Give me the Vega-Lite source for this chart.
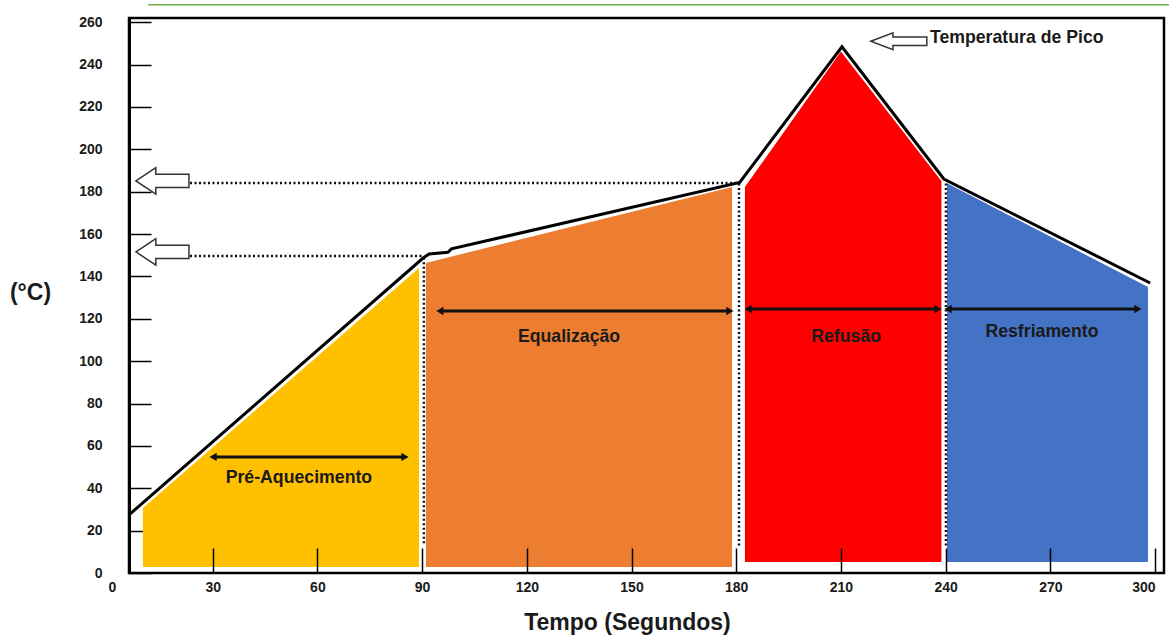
{
  "$schema": "https://vega.github.io/schema/vega-lite/v6.json",
  "width": 1035,
  "height": 555,
  "autosize": "none",
  "padding": {"left": 129, "top": 18, "right": 5, "bottom": 66},
  "background": "white",
  "config": {
    "view": {"stroke": "black", "strokeWidth": 2.5},
    "font": "Liberation Sans"
  },
  "datasets": {
    "profile": [
      {"t": 6.0, "v": 27.4}, {"t": 90.3, "v": 148.7}, {"t": 92.0, "v": 150.6},
      {"t": 97.4, "v": 151.4}, {"t": 98.4, "v": 153.0}, {"t": 181.0, "v": 184.4},
      {"t": 210.3, "v": 248.4}, {"t": 239.5, "v": 186.0}, {"t": 298.6, "v": 136.9}
    ],
    "zones": [
      {"phase": "Pré-Aquecimento", "t": 10.0, "v": 30.7},
      {"phase": "Pré-Aquecimento", "t": 89.1, "v": 144.0},
      {"phase": "Equalização", "t": 91.1, "v": 146.4},
      {"phase": "Equalização", "t": 178.8, "v": 182.2},
      {"phase": "Refusão", "t": 182.5, "v": 182.2},
      {"phase": "Refusão", "t": 210.0, "v": 246.2},
      {"phase": "Refusão", "t": 238.8, "v": 185.0},
      {"phase": "Resfriamento", "t": 240.4, "v": 184.0},
      {"phase": "Resfriamento", "t": 298.0, "v": 135.0}
    ],
    "bounds": [
      {"t": 90.5, "v": 14, "v2": 148.5},
      {"t": 180.8, "v": 13, "v2": 184},
      {"t": 240.1, "v": 13, "v2": 186}
    ],
    "levels": [
      {"t": 23.5, "t2": 180.5, "v": 184.1},
      {"t": 23.5, "t2": 90.3, "v": 149.7}
    ],
    "markers": [
      {"t": 15.6, "v": 185.1},
      {"t": 15.6, "v": 151.6}
    ],
    "peak": [
      {"t": 226.6, "v": 251.0}
    ],
    "spans": [
      {"phase": "Pré-Aquecimento", "t": 30.1, "t2": 85.1, "v": 54.8},
      {"phase": "Equalização", "t": 95.1, "t2": 178.2, "v": 123.7},
      {"phase": "Refusão", "t": 183.4, "t2": 237.8, "v": 124.6},
      {"phase": "Resfriamento", "t": 240.7, "t2": 295.1, "v": 124.6}
    ],
    "labels": [
      {"label": "Pré-Aquecimento", "t": 54.7, "v": 44.9},
      {"label": "Equalização", "t": 132.1, "v": 111.4},
      {"label": "Refusão", "t": 211.5, "v": 111.4},
      {"label": "Resfriamento", "t": 267.6, "v": 113.8}
    ],
    "peakLabel": [
      {"label": "Temperatura de Pico", "t": 235.5, "v": 252.6}
    ],
    "topRule": [
      {"t": 11.5, "t2": 304, "v": 268.2}
    ]
  },
  "encoding": {
    "x": {
      "field": "t", "type": "quantitative",
      "scale": {"domain": [0, 300], "range": [-21, 1026], "nice": false, "zero": false},
      "axis": {
        "values": [0, 30, 60, 90, 120, 150, 180, 210, 240, 270, 300],
        "domain": false, "grid": false,
        "tickSize": -25, "tickWidth": 1.5, "tickColor": "black",
        "tickOpacity": {"condition": {"test": "datum.value === 0", "value": 0}, "value": 1},
        "labelPadding": 32, "labelFontSize": 14, "labelFontWeight": "bold", "labelColor": "#1a1a1a",
        "title": "Tempo (Segundos)", "titleFontSize": 23, "titleFontWeight": "bold", "titleColor": "#1a1a1a",
        "titleX": 498, "titleY": 49, "titleBaseline": "middle",
        "zindex": 1
      }
    },
    "y": {
      "field": "v", "type": "quantitative",
      "scale": {"domain": [0, 262], "nice": false, "zero": true},
      "axis": {
        "values": [0, 20, 40, 60, 80, 100, 120, 140, 160, 180, 200, 220, 240, 260],
        "domain": true, "domainColor": "black", "domainWidth": 3, "grid": false,
        "tickSize": -22, "tickWidth": 1.5, "tickColor": "black",
        "labelPadding": 49, "labelFontSize": 14, "labelFontWeight": "bold", "labelColor": "#1a1a1a",
        "title": "(°C)", "titleFontSize": 23, "titleFontWeight": "bold", "titleColor": "#1a1a1a",
        "titleAngle": 0, "titleX": -99, "titleY": 274, "titleAlign": "center", "titleBaseline": "middle"
      }
    }
  },
  "layer": [
    {
      "data": {"name": "zones"},
      "transform": [{"filter": "datum.phase === 'Pré-Aquecimento' || datum.phase === 'Equalização'"}],
      "mark": {"type": "area", "opacity": 1},
      "encoding": {
        "y2": {"datum": 2.8},
        "color": {
          "field": "phase", "type": "nominal", "legend": null,
          "scale": {"domain": ["Pré-Aquecimento", "Equalização", "Refusão", "Resfriamento"],
                    "range": ["#FFC000", "#ED7D31", "#FF0000", "#4472C4"]}
        }
      }
    },
    {
      "data": {"name": "zones"},
      "transform": [{"filter": "datum.phase === 'Refusão' || datum.phase === 'Resfriamento'"}],
      "mark": {"type": "area", "opacity": 1},
      "encoding": {
        "y2": {"datum": 5.2},
        "color": {"field": "phase", "type": "nominal", "legend": null}
      }
    },
    {
      "data": {"name": "bounds"},
      "mark": {"type": "rule", "color": "#111", "strokeWidth": 2.5, "strokeDash": [2, 2.5]},
      "encoding": {"y2": {"field": "v2"}}
    },
    {
      "data": {"name": "levels"},
      "mark": {"type": "rule", "color": "#111", "strokeWidth": 2.5, "strokeDash": [2, 2.5]},
      "encoding": {"x2": {"field": "t2"}}
    },
    {
      "data": {"name": "profile"},
      "mark": {"type": "line", "color": "black", "strokeWidth": 3, "strokeJoin": "miter"},
      "encoding": {}
    },
    {
      "data": {"name": "markers"},
      "mark": {"type": "point", "shape": "M -1 0 L -0.25 -0.5 L -0.25 -0.25 L 1 -0.25 L 1 0.25 L -0.25 0.25 L -0.25 0.5 Z",
               "size": 2809, "filled": true, "fill": "white", "stroke": "#333", "strokeWidth": 1.5, "opacity": 1},
      "encoding": {}
    },
    {
      "data": {"name": "peak"},
      "mark": {"type": "point", "shape": "M -1 0 L -0.21 -0.3 L -0.21 -0.15 L 1 -0.15 L 1 0.15 L -0.21 0.15 L -0.21 0.3 Z",
               "size": 3136, "filled": true, "fill": "white", "stroke": "#333", "strokeWidth": 1.5, "opacity": 1},
      "encoding": {}
    },
    {
      "data": {"name": "spans"},
      "mark": {"type": "rule", "color": "#111", "strokeWidth": 3},
      "encoding": {"x2": {"field": "t2"}}
    },
    {
      "data": {"name": "spans"},
      "mark": {"type": "point", "shape": "triangle-left", "size": 70, "filled": true, "color": "#111", "opacity": 1},
      "encoding": {}
    },
    {
      "data": {"name": "spans"},
      "mark": {"type": "point", "shape": "triangle-right", "size": 70, "filled": true, "color": "#111", "opacity": 1},
      "encoding": {"x": {"field": "t2", "type": "quantitative"}}
    },
    {
      "data": {"name": "labels"},
      "mark": {"type": "text", "fontSize": 17.7, "fontWeight": "bold", "color": "#1a1a1a", "align": "center", "baseline": "middle"},
      "encoding": {"text": {"field": "label"}}
    },
    {
      "data": {"name": "peakLabel"},
      "mark": {"type": "text", "fontSize": 17.7, "fontWeight": "bold", "color": "#1a1a1a", "align": "left", "baseline": "middle"},
      "encoding": {"text": {"field": "label"}}
    },
    {
      "data": {"name": "topRule"},
      "mark": {"type": "rule", "color": "#70AD47", "strokeWidth": 1.5, "clip": false},
      "encoding": {"x2": {"field": "t2"}}
    }
  ]
}
